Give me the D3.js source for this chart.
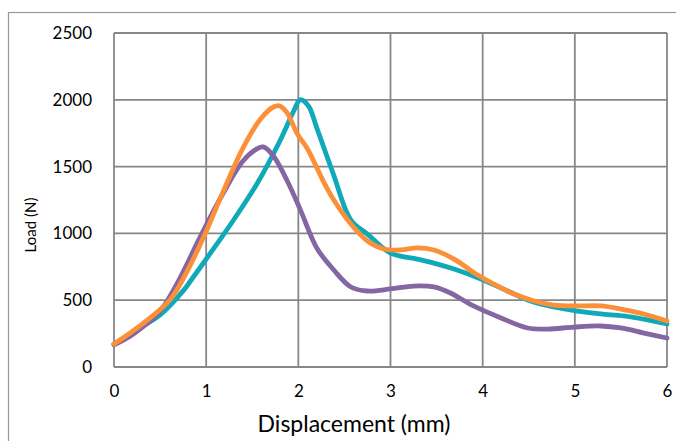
<!DOCTYPE html>
<html>
<head>
<meta charset="utf-8">
<script src="https://cdn.jsdelivr.net/npm/d3@7"></script>
<style>
  body { margin: 0; background: #fff; }
  svg { display: block; }
</style>
</head>
<body>
<div class="chart"></div>
<script>
// displacement (mm) / load (N)
const tealX = [0, 0.25, 0.5, 0.75, 0.83, 1.04, 1.29, 1.55, 1.8, 1.95, 2.02, 2.11, 2.2, 2.38, 2.57, 2.75, 3.0, 3.29, 3.47, 3.69, 3.98, 4.27, 4.52, 4.77, 5.03, 5.28, 5.53, 5.79, 6.0];
const tealY = [172, 280, 390, 570, 644, 846, 1093, 1370, 1692, 1916, 2000, 1954, 1790, 1444, 1100, 995, 853, 808, 778, 733, 659, 569, 494, 449, 419, 397, 382, 352, 322];

const orangeX = [0, 0.32, 0.61, 0.8, 1.0, 1.18, 1.4, 1.59, 1.73, 1.8, 1.88, 1.99, 2.1, 2.27, 2.38, 2.57, 2.75, 2.93, 3.11, 3.29, 3.47, 3.69, 3.91, 4.12, 4.34, 4.56, 4.77, 5.03, 5.28, 5.5, 5.75, 6.0];
const orangeY = [172, 329, 505, 725, 1015, 1305, 1640, 1856, 1946, 1954, 1900, 1744, 1632, 1392, 1255, 1070, 943, 883, 876, 891, 876, 808, 704, 621, 546, 494, 464, 457, 457, 434, 397, 344];

const purpleX = [0, 0.21, 0.5, 0.7, 0.93, 1.18, 1.4, 1.55, 1.62, 1.73, 1.88, 2.02, 2.2, 2.38, 2.57, 2.75, 3.0, 3.25, 3.47, 3.65, 3.9, 4.2, 4.49, 4.71, 4.99, 5.28, 5.5, 5.75, 6.0];
const purpleY = [165, 247, 419, 644, 966, 1295, 1542, 1632, 1647, 1579, 1392, 1180, 891, 730, 599, 569, 584, 606, 599, 554, 457, 367, 292, 284, 299, 307, 292, 254, 217];

const xTicks = [0, 1, 2, 3, 4, 5, 6];
const yTicks = [0, 500, 1000, 1500, 2000, 2500];

const width = 676;
const height = 441;
const margin = { top: 33, right: 9, bottom: 74, left: 114 };
const font = "Lato, 'Open Sans', sans-serif";

const svg = d3.select(".chart")
    .append("svg")
    .attr("width", width)
    .attr("height", height);

// outer chart frame, runs off the right and bottom edges
svg.append("rect")
    .attr("x", 8.5)
    .attr("y", 12.5)
    .attr("width", 720)
    .attr("height", 500)
    .attr("fill", "none")
    .attr("stroke", "#9a9a9a")
    .attr("stroke-width", 1.2);

const x = d3.scaleLinear().domain([0, 6]).range([margin.left, width - margin.right]);
const y = d3.scaleLinear().domain([0, 2500]).range([height - margin.bottom, margin.top]);

const grid = svg.append("g");
grid.selectAll(".vgrid")
    .data(xTicks)
    .enter()
    .append("line")
    .attr("x1", (d) => x(d))
    .attr("x2", (d) => x(d))
    .attr("y1", y(0))
    .attr("y2", y(2500))
    .attr("stroke", "#878787")
    .attr("stroke-width", 1.8);

grid.selectAll(".hgrid")
    .data(yTicks)
    .enter()
    .append("line")
    .attr("x1", x(0))
    .attr("x2", x(6))
    .attr("y1", (d) => y(d))
    .attr("y2", (d) => y(d))
    .attr("stroke", "#878787")
    .attr("stroke-width", 1.8);

const xAxis = d3.axisBottom(x).tickValues(xTicks).tickSize(0).tickPadding(18).tickFormat(d3.format("d"));
const yAxis = d3.axisLeft(y).tickValues(yTicks).tickSize(0).tickPadding(22).tickFormat(d3.format("d"));

svg.append("g")
    .attr("transform", "translate(0," + y(0) + ")")
    .call(xAxis)
    .call((g) => g.select(".domain").remove())
    .call((g) => g.selectAll("text").attr("fill", "#000").attr("font-size", 17).attr("font-family", font));

svg.append("g")
    .attr("transform", "translate(" + x(0) + ",0)")
    .call(yAxis)
    .call((g) => g.select(".domain").remove())
    .call((g) => g.selectAll("text").attr("fill", "#000").attr("font-size", 17).attr("font-family", font));

svg.append("text")
    .attr("x", 354)
    .attr("y", 432)
    .attr("text-anchor", "middle")
    .attr("font-family", font)
    .attr("font-size", 23)
    .text("Displacement (mm)");

svg.append("text")
    .attr("transform", "translate(36,225) rotate(-90)")
    .attr("text-anchor", "middle")
    .attr("font-family", font)
    .attr("font-size", 15)
    .text("Load (N)");

const line = d3.line()
    .x((d) => x(d[0]))
    .y((d) => y(d[1]))
    .curve(d3.curveCatmullRom.alpha(0.5));

const series = [
    { xs: tealX, ys: tealY, color: "#0fa9ba" },
    { xs: purpleX, ys: purpleY, color: "#8466a3" },
    { xs: orangeX, ys: orangeY, color: "#fb9038" }
];

series.forEach((s) => {
    const pts = s.xs.map((d, i) => [d, s.ys[i]]);
    svg.append("path")
        .datum(pts)
        .attr("d", line)
        .attr("fill", "none")
        .attr("stroke", s.color)
        .attr("stroke-width", 4.8)
        .attr("stroke-linejoin", "round")
        .attr("stroke-linecap", "round");
});
</script>
</body>
</html>
